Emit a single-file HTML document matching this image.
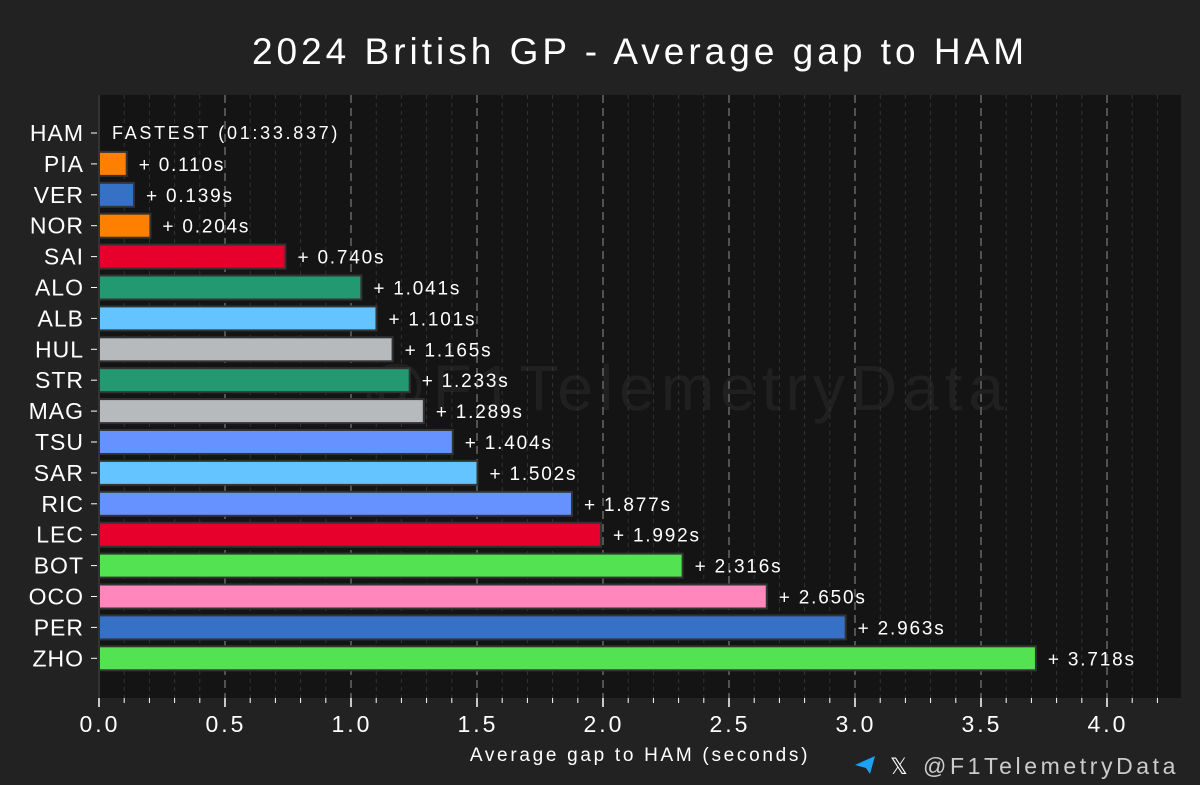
<!DOCTYPE html>
<html><head><meta charset="utf-8"><style>
body{margin:0;background:#222;}
svg{display:block;font-family:"Liberation Sans","DejaVu Sans",sans-serif;}
</style></head><body>
<svg id="c" width="1200" height="785">
<rect width="1200" height="785" fill="#222"/>
<text x="640" y="64" fill="#fff" font-size="37" letter-spacing="4" text-anchor="middle">2024 British GP - Average gap to HAM</text>
<rect x="99" y="95" width="1082" height="603" fill="#141414"/>
<text x="1010" y="410" fill="#fff" opacity="0.05" font-size="64" letter-spacing="6" text-anchor="end">@F1TelemetryData</text>
<g id="grid"></g><g id="bars"></g><g id="axes"></g>
<text x="640" y="761" fill="#fff" font-size="19" letter-spacing="2.7" text-anchor="middle">Average gap to HAM (seconds)</text>
<path d="M855 765 L875 756 L870 774 L866 768 Z" fill="#1da1f2"/>
<text x="890" y="774" fill="#fff" font-size="22">𝕏</text>
<text x="923" y="774" fill="#ccc" font-size="23" letter-spacing="3.6">@F1TelemetryData</text>
</svg>
<script>
const drivers=["HAM","PIA","VER","NOR","SAI","ALO","ALB","HUL","STR","MAG","TSU","SAR","RIC","LEC","BOT","OCO","PER","ZHO"];
const gaps=[0,0.110,0.139,0.204,0.740,1.041,1.101,1.165,1.233,1.289,1.404,1.502,1.877,1.992,2.316,2.650,2.963,3.718];
const colors=["#27f4d2","#ff8000","#3671c6","#ff8000","#e8002d","#229971","#64c4ff","#b6babd","#229971","#b6babd","#6692ff","#64c4ff","#6692ff","#e8002d","#52e252","#ff87bc","#3671c6","#52e252"];
const ticks=["0.0","0.5","1.0","1.5","2.0","2.5","3.0","3.5","4.0"];
const ns="http://www.w3.org/2000/svg";
const X=v=>99+v*252, Y=i=>133+i*30.9;
function mk(p,t,a){const e=document.createElementNS(ns,t);for(const k in a)e.setAttribute(k,a[k]);p.appendChild(e);return e;}
const grid=document.getElementById('grid'),bars=document.getElementById('bars'),axes=document.getElementById('axes');
for(let k=1;k<=42;k++){const v=k/10,major=k%5==0;
 const g=mk(grid,'line',{x1:X(v),x2:X(v),y1:95,y2:698,stroke:major?'#666':'#333','stroke-width':major?1.5:1,'stroke-dasharray':major?'8,5':'4,4'});
 
 }
for(let k=0;k<=42;k++){const major=k%5==0;
 const t=mk(axes,'line',{x1:X(k/10),x2:X(k/10),y1:698,y2:major?707:703,stroke:'#fff','stroke-width':major?1.5:1});
 
 }
ticks.forEach(s=>{const t=mk(axes,'text',{x:X(parseFloat(s))+1,y:732,fill:'#fff','font-size':23,'letter-spacing':3,'text-anchor':'middle'});t.textContent=s;
 
 });
drivers.forEach((d,i)=>{const y=Y(i);
 const l=mk(axes,'text',{x:84,y:y+8,fill:'#fff','font-size':23,'letter-spacing':1,'text-anchor':'end'});l.textContent=d;
 
 
 const tk=mk(axes,'line',{x1:91,x2:97,y1:y,y2:y,stroke:'#fff'});
 
 
 if(i==0){const t=mk(bars,'text',{x:112,y:y+6,fill:'#fff','font-size':18,'letter-spacing':2.7});t.textContent='FASTEST (01:33.837)';
  
  return;}
 const r=mk(bars,'rect',{x:X(0),y:y-12,width:X(gaps[i])-X(0),height:24,fill:colors[i],stroke:'#333','stroke-width':2});
 
 
 const t=mk(bars,'text',{x:X(gaps[i])+12,y:y+7,fill:'#fff','font-size':19,'letter-spacing':1.8});t.textContent='+ '+gaps[i].toFixed(3)+'s';
 
 
});
const ax=mk(axes,'line',{x1:99,x2:99,y1:95,y2:698,stroke:'#333','stroke-width':2});


</script>
</body></html>
